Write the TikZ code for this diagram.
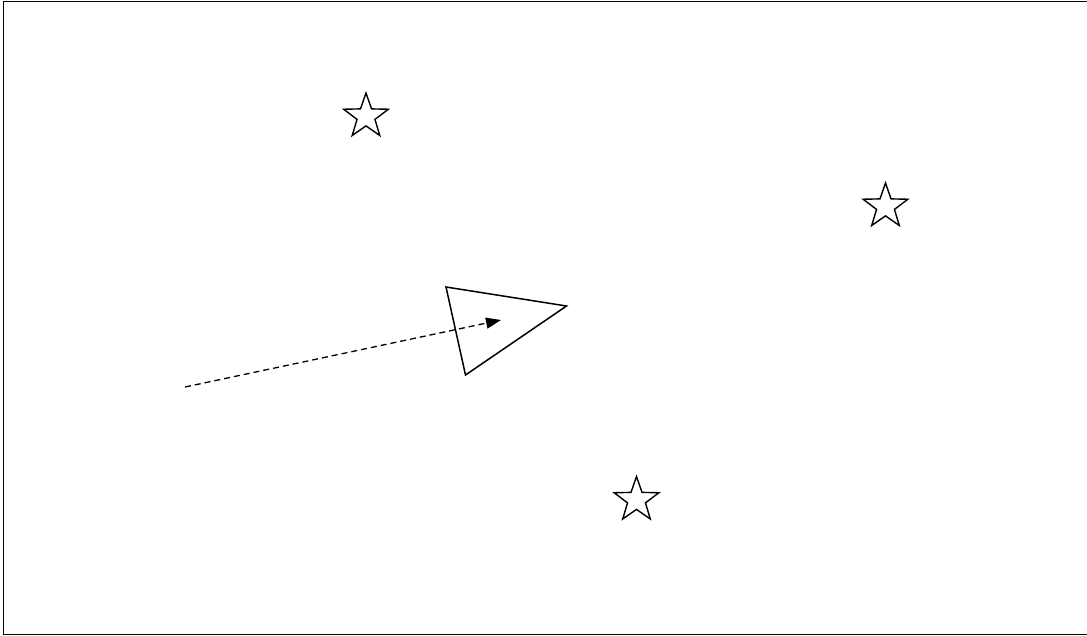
\documentclass[tikz,border=0pt]{standalone}
\usetikzlibrary{shapes.geometric,arrows.meta}
\begin{document}
\begin{tikzpicture}[x=1pt,y=-1pt,
  starshape/.style={draw=black,line width=1.4pt,shape=star,star points=5,star point ratio=2.5,minimum size=47pt,inner sep=0pt,line join=miter},
  tri/.style={draw=black,line width=1.5pt,line join=miter},
  motion/.style={draw=black,line width=1.3pt,dash pattern=on 6pt off 4pt,-{Triangle[length=15pt,width=11pt]}},
  frame/.style={draw=black,line width=1.6pt}]
\useasboundingbox (0,0) rectangle (1087,636);
\draw[frame] (1095,1.5) -- (3.5,1.5) -- (3.5,634.5) -- (1095,634.5);
\node[starshape] (s1) at (366,116.5) {};
\node[starshape] (s2) at (885.5,206.5) {};
\node[starshape] (s3) at (636.5,500) {};
\coordinate (t1) at (446,287);
\coordinate (t2) at (566.5,306);
\coordinate (t3) at (465.5,375);
\draw[tri] (t1) -- (t2) -- (t3) -- cycle;
\coordinate (a0) at (185,387);
\coordinate (a1) at (501,320);
\draw[motion] (a0) -- (a1);
\end{tikzpicture}
\end{document}
